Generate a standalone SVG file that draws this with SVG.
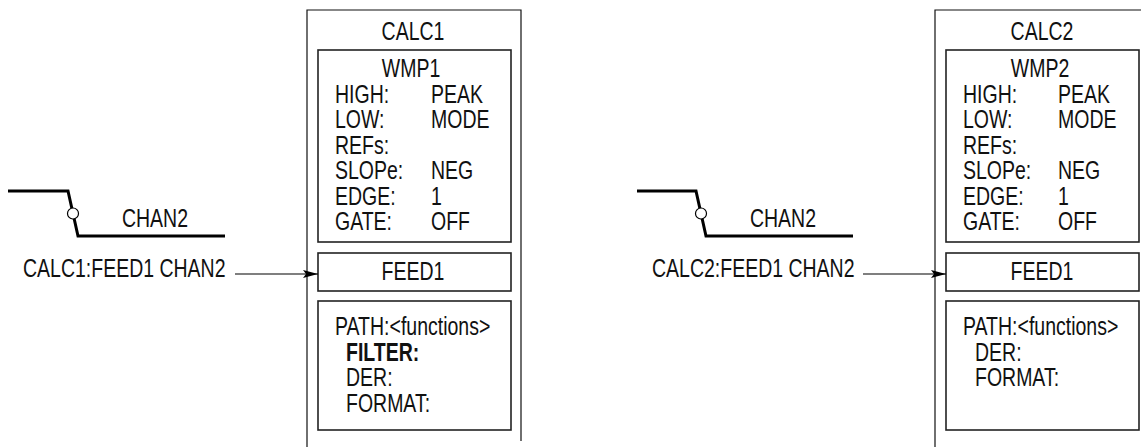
<svg xmlns="http://www.w3.org/2000/svg" width="1141" height="447" viewBox="0 0 1141 447">
<style>
text{font-family:"Liberation Sans",Arial,sans-serif;font-size:25px;fill:#111}
.c{text-anchor:middle}
.b{font-weight:bold}
.outer{fill:none;stroke:#111;stroke-width:1.2}
.inner{fill:#fff;stroke:#222;stroke-width:1.6}
.sig{fill:none;stroke:#000;stroke-width:3;stroke-linejoin:miter}
.dot{fill:#fff;stroke:#000;stroke-width:1.2}
.conn{fill:none;stroke:#000;stroke-width:1.2}
</style>
<defs>
<marker id="arr" markerUnits="userSpaceOnUse" markerWidth="16" markerHeight="10" refX="15" refY="4" orient="auto">
<path d="M0,0 L15,4 L0,8 L3,4 z" fill="#000"/>
</marker>
</defs>

<g id="signal1">
<polyline class="sig" points="8,191 68,191 78,236 225,236"/>
<circle class="dot" cx="73" cy="213.5" r="5.5"/>
<text class="c" transform="translate(155,227) scale(0.78,1)">CHAN2</text>
</g>
<g id="label1">
<text transform="translate(23,277) scale(0.78,1)">CALC1:FEED1 CHAN2</text>
</g>

<g id="calc1">
<path class="outer" d="M307,447 V10 H521 V441"/>
<text class="c" transform="translate(413,40) scale(0.78,1)">CALC1</text>
</g>
<g id="wmp1">
<rect class="inner" x="318" y="50" width="193" height="192"/>
<text class="c" transform="translate(411,77) scale(0.78,1)">WMP1</text>
<text transform="translate(335,102.5) scale(0.78,1)">HIGH:</text>
<text transform="translate(431,102.5) scale(0.78,1)">PEAK</text>
<text transform="translate(335,128) scale(0.78,1)">LOW:</text>
<text transform="translate(431,128) scale(0.78,1)">MODE</text>
<text transform="translate(335,153.5) scale(0.78,1)">REFs:</text>
<text transform="translate(335,179) scale(0.78,1)">SLOPe:</text>
<text transform="translate(431,179) scale(0.78,1)">NEG</text>
<text transform="translate(335,204.5) scale(0.78,1)">EDGE:</text>
<text transform="translate(431,204.5) scale(0.78,1)">1</text>
<text transform="translate(335,230) scale(0.78,1)">GATE:</text>
<text transform="translate(431,230) scale(0.78,1)">OFF</text>
</g>
<g id="feed1a">
<rect class="inner" x="318" y="253" width="193" height="38"/>
<text class="c" transform="translate(413,280) scale(0.78,1)">FEED1</text>
</g>
<g id="path1">
<rect class="inner" x="318" y="301" width="193" height="129"/>
<text transform="translate(335,335) scale(0.78,1)">PATH:&lt;functions&gt;</text>
<text class="b" transform="translate(346,360.5) scale(0.78,1)">FILTER:</text>
<text transform="translate(346,386) scale(0.78,1)">DER:</text>
<text transform="translate(346,411.5) scale(0.78,1)">FORMAT:</text>
</g>

<g id="signal2">
<polyline class="sig" points="637,191 696,191 706,236 853,236"/>
<circle class="dot" cx="701" cy="213.5" r="5.5"/>
<text class="c" transform="translate(783,227) scale(0.78,1)">CHAN2</text>
</g>
<g id="label2">
<text transform="translate(652,277) scale(0.78,1)">CALC2:FEED1 CHAN2</text>
</g>

<g id="calc2">
<path class="outer" d="M935,447 V10 H1150"/>
<text class="c" transform="translate(1042,40) scale(0.78,1)">CALC2</text>
</g>
<g id="wmp2">
<rect class="inner" x="946" y="50" width="193" height="192"/>
<text class="c" transform="translate(1040,77) scale(0.78,1)">WMP2</text>
<text transform="translate(963,102.5) scale(0.78,1)">HIGH:</text>
<text transform="translate(1058,102.5) scale(0.78,1)">PEAK</text>
<text transform="translate(963,128) scale(0.78,1)">LOW:</text>
<text transform="translate(1058,128) scale(0.78,1)">MODE</text>
<text transform="translate(963,153.5) scale(0.78,1)">REFs:</text>
<text transform="translate(963,179) scale(0.78,1)">SLOPe:</text>
<text transform="translate(1058,179) scale(0.78,1)">NEG</text>
<text transform="translate(963,204.5) scale(0.78,1)">EDGE:</text>
<text transform="translate(1058,204.5) scale(0.78,1)">1</text>
<text transform="translate(963,230) scale(0.78,1)">GATE:</text>
<text transform="translate(1058,230) scale(0.78,1)">OFF</text>
</g>
<g id="feed1b">
<rect class="inner" x="946" y="253" width="193" height="38"/>
<text class="c" transform="translate(1042,280) scale(0.78,1)">FEED1</text>
</g>
<g id="path2">
<rect class="inner" x="946" y="301" width="193" height="129"/>
<text transform="translate(963,335) scale(0.78,1)">PATH:&lt;functions&gt;</text>
<text transform="translate(975,360.5) scale(0.78,1)">DER:</text>
<text transform="translate(975,386) scale(0.78,1)">FORMAT:</text>
</g>

<g id="connectors">
<line class="conn" x1="235" y1="274" x2="318" y2="274" marker-end="url(#arr)"/>
<line class="conn" x1="863" y1="274" x2="946" y2="274" marker-end="url(#arr)"/>
</g>
</svg>
